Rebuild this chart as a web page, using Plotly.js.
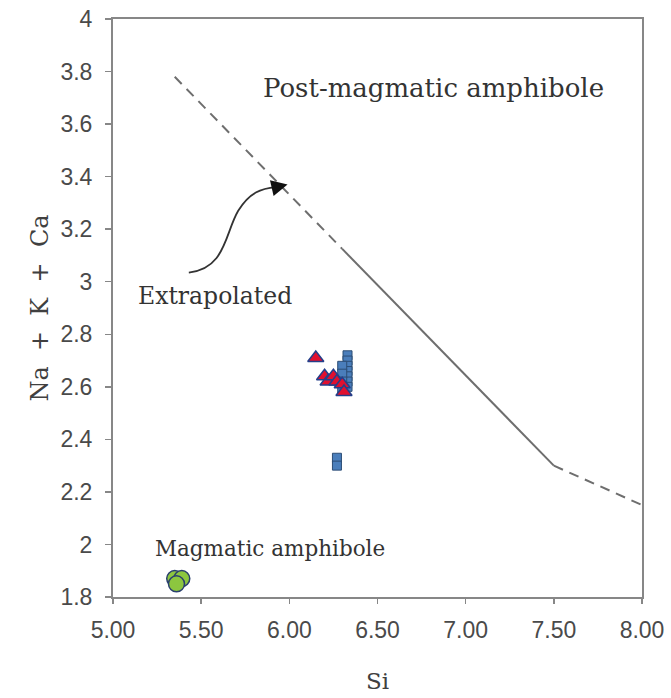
<!DOCTYPE html>
<html>
<head>
<meta charset="utf-8">
<script src="https://cdn.plot.ly/plotly-3.0.1.min.js"></script>
<style>html,body{margin:0;padding:0;background:#fff;}#chart{width:671px;height:698px;}</style>
</head>
<body>
<div id="chart"></div>
<script>
// Boundary line (Si vs Na+K+Ca)
const lineDash1X = [5.35, 6.30];
const lineDash1Y = [3.78, 3.125];
const lineSolidX = [6.30, 7.50];
const lineSolidY = [3.125, 2.30];
const lineDash2X = [7.50, 8.00];
const lineDash2Y = [2.30, 2.15];

// Samples
const squareX = [6.33, 6.33, 6.33, 6.33, 6.33, 6.33, 6.33, 6.30, 6.30, 6.30, 6.30, 6.27, 6.27];
const squareY = [2.72, 2.70, 2.68, 2.66, 2.64, 2.62, 2.60, 2.68, 2.65, 2.62, 2.59, 2.33, 2.30];
const triX = [6.15, 6.20, 6.22, 6.25, 6.27, 6.30, 6.31];
const triY = [2.71, 2.64, 2.62, 2.64, 2.62, 2.61, 2.58];
const circX = [5.35, 5.39, 5.36];
const circY = [1.87, 1.87, 1.85];

const xTicks = [5.0, 5.5, 6.0, 6.5, 7.0, 7.5, 8.0];
const yTicks = [1.8, 2.0, 2.2, 2.4, 2.6, 2.8, 3.0, 3.2, 3.4, 3.6, 3.8, 4.0];

// Arrow curve (data units)
const arrowStart = [5.43, 3.035];
const arrowC1 = [5.64, 3.05];
const arrowC2 = [5.635, 3.185];
const arrowMid = [5.71, 3.27];
const arrowC3 = [5.775, 3.34];
const arrowC4 = [5.84, 3.355];
const arrowEnd = [5.925, 3.36];
const arrowTip = [5.99, 3.37];

const lineStyle = {color: '#6e6e6e', width: 2};
const traces = [
  {x: lineDash1X, y: lineDash1Y, mode: 'lines', line: Object.assign({dash: '10px,7px'}, lineStyle), hoverinfo: 'skip'},
  {x: lineSolidX, y: lineSolidY, mode: 'lines', line: lineStyle, hoverinfo: 'skip'},
  {x: lineDash2X, y: lineDash2Y, mode: 'lines', line: Object.assign({dash: '10px,7px'}, lineStyle), hoverinfo: 'skip'},
  {x: circX, y: circY, mode: 'markers', cliponaxis: false,
   marker: {symbol: 'circle', size: 16, color: '#8cc63f', line: {color: '#2a3f6e', width: 1.5}}},
  {x: squareX, y: squareY, mode: 'markers',
   marker: {symbol: 'square', size: 9, color: '#4a7ebb', line: {color: '#2c4d75', width: 1}}},
  {x: triX, y: triY, mode: 'markers',
   marker: {symbol: 'triangle-up', size: 14, color: '#e0102f', line: {color: '#243f8a', width: 1.5}}}
];

const serif = 'DejaVu Serif';
const layout = {
  width: 671, height: 698,
  margin: {l: 113, r: 29, t: 19, b: 101},
  paper_bgcolor: '#fff', plot_bgcolor: '#fff',
  showlegend: false,
  xaxis: {
    range: [5, 8], tickvals: xTicks, tickformat: '.2f',
    showgrid: false, zeroline: false,
    showline: true, mirror: true, linecolor: '#878787', linewidth: 2,
    ticks: 'outside', ticklen: 5, tickcolor: '#878787', tickwidth: 1.5,
    ticklabelstandoff: 6,
    tickfont: {family: 'Liberation Sans', size: 23, color: '#4a4a4a'},
    title: {text: 'Si', standoff: 31, font: {family: serif, size: 23, color: '#404040'}}
  },
  yaxis: {
    range: [1.8, 4], tickvals: yTicks,
    showgrid: false, zeroline: false,
    showline: true, mirror: true, linecolor: '#878787', linewidth: 2,
    ticks: 'outside', ticklen: 6, tickcolor: '#878787', tickwidth: 1.5,
    ticklabelstandoff: 8,
    tickfont: {family: 'Liberation Sans', size: 23, color: '#4a4a4a'},
    title: {text: 'Na\u00a0 +\u00a0 K\u00a0 +\u00a0 Ca', standoff: 5, font: {family: serif, size: 24, color: '#404040'}}
  },
  shapes: [{
    type: 'path', xref: 'x', yref: 'y',
    path: 'M ' + arrowStart.join(',') + ' C ' + arrowC1.join(',') + ' ' + arrowC2.join(',') + ' ' + arrowMid.join(',') +
          ' C ' + arrowC3.join(',') + ' ' + arrowC4.join(',') + ' ' + arrowEnd.join(','),
    line: {color: '#333', width: 1.8}
  }],
  annotations: [
    {x: arrowTip[0], y: arrowTip[1], ax: arrowEnd[0], ay: arrowEnd[1], axref: 'x', ayref: 'y', xref: 'x', yref: 'y',
     text: '', showarrow: true, arrowhead: 2, arrowsize: 1.8, arrowwidth: 1.8, arrowcolor: '#111'},
    {x: 6.82, y: 3.737, xref: 'x', yref: 'y', text: 'Post-magmatic amphibole', showarrow: false,
     font: {family: serif, size: 26, color: '#333'}},
    {x: 5.58, y: 2.945, xref: 'x', yref: 'y', text: 'Extrapolated', showarrow: false,
     font: {family: serif, size: 23.5, color: '#333'}},
    {x: 5.89, y: 1.986, xref: 'x', yref: 'y', text: 'Magmatic amphibole', showarrow: false,
     font: {family: serif, size: 21.5, color: '#333'}}
  ]
};

Plotly.newPlot('chart', traces, layout, {displayModeBar: false, staticPlot: true});
</script>
</body>
</html>
